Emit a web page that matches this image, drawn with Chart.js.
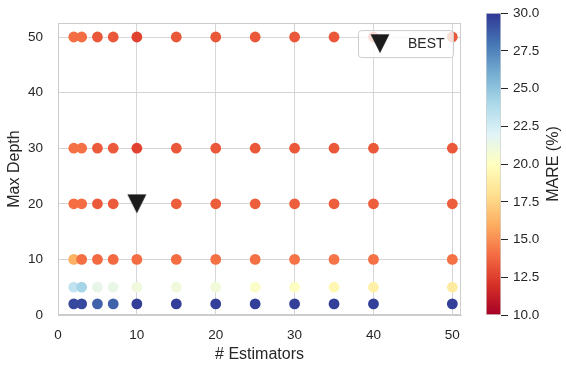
<!DOCTYPE html>
<html>
<head>
<meta charset="utf-8">
<script src="https://cdn.jsdelivr.net/npm/chart.js@4/dist/chart.umd.min.js"></script>
<style>
  html, body { margin: 0; padding: 0; background: #ffffff; }
  #wrap { position: relative; width: 566px; height: 371px; }
  #main { position: absolute; left: 0; top: 0; }
  #cbar { position: absolute; left: 475px; top: 0; }
</style>
</head>
<body>
<div id="wrap">
  <canvas id="main" width="475" height="371"></canvas>
  <canvas id="cbar" width="91" height="371"></canvas>
</div>
<script>
// Grid search results: MARE (%) for each (n_estimators, max_depth) pair
const estimators = [2, 3, 5, 7, 10, 15, 20, 25, 30, 35, 40, 50];
const maxDepths = [2, 5, 10, 20, 30, 50];

const mareDepth2  = [29.4, 29.4, 28.6, 28.6, 29.7, 29.7, 29.7, 29.7, 29.7, 29.7, 29.7, 29.7];
const mareDepth5  = [23.2, 24.2, 21.5, 21.4, 21.0, 21.0, 20.9, 20.3, 20.1, 19.5, 19.0, 18.7];
const mareDepth10 = [16.1, 14.0, 13.9, 13.9, 14.0, 14.0, 14.1, 14.1, 14.2, 14.2, 14.1, 14.1];
const mareDepth20 = [14.0, 14.0, 13.4, 13.4, null, 13.5, 13.5, 13.5, 13.5, 13.5, 13.5, 13.5];
const mareDepth30 = [14.1, 14.1, 13.4, 13.4, 12.6, 13.3, 13.3, 13.3, 13.3, 13.3, 13.3, 13.3];
const mareDepth50 = [14.0, 14.0, 13.3, 13.3, 12.6, 13.3, 13.3, 13.3, 13.3, 13.3, 13.3, 13.3];
const mareRows = [mareDepth2, mareDepth5, mareDepth10, mareDepth20, mareDepth30, mareDepth50];

// Selected configuration
const bestEstimators = 10;
const bestDepth = 20;

// Axis ticks and colour scale range
const xTicks = [0, 10, 20, 30, 40, 50];
const yTicks = [0, 10, 20, 30, 40, 50];
const cbarTicks = [10, 12.5, 15, 17.5, 20, 22.5, 25, 27.5, 30];
const cbarMin = 10;
const cbarMax = 30;

// RdYlBu colormap anchors
const RDYLBU = ['#a50026', '#d73027', '#f46d43', '#fdae61', '#fee090', '#ffffbf',
                '#e0f3f8', '#abd9e9', '#74add1', '#4575b4', '#313695'];

function hexToRgb(h) {
  return [parseInt(h.slice(1, 3), 16), parseInt(h.slice(3, 5), 16), parseInt(h.slice(5, 7), 16)];
}
function rdylbu(t) {
  t = Math.max(0, Math.min(1, t));
  const pos = t * (RDYLBU.length - 1);
  const i = Math.min(Math.floor(pos), RDYLBU.length - 2);
  const f = pos - i;
  const a = hexToRgb(RDYLBU[i]), b = hexToRgb(RDYLBU[i + 1]);
  const c = a.map((v, k) => Math.round(v + (b[k] - v) * f));
  return `rgb(${c[0]},${c[1]},${c[2]})`;
}
function colorFor(v) { return rdylbu((v - cbarMin) / (cbarMax - cbarMin)); }

const FONT = "'Liberation Sans', Arial, Helvetica, sans-serif";
const TEXT = '#262626';
const GRID = '#d6d6d6';

// Scatter points built from the result rows
const points = [];
const pointColors = [];
maxDepths.forEach((d, r) => {
  estimators.forEach((n, c) => {
    const v = mareRows[r][c];
    if (v === null) return;
    points.push({ x: n, y: d, mare: v });
    pointColors.push(colorFor(v));
  });
});

// Downward triangle marker
function makeTriangle(w, h, color) {
  const cv = document.createElement('canvas');
  cv.width = w + 1; cv.height = h + 1;
  const c = cv.getContext('2d');
  c.fillStyle = color;
  c.beginPath();
  c.moveTo(0.5, 0.5);
  c.lineTo(w + 0.5, 0.5);
  c.lineTo((w + 1) / 2, h + 0.5);
  c.closePath();
  c.fill();
  return cv;
}
const triangle = makeTriangle(19, 19, '#1c1c1c');

// Frame around the plotting area
const framePlugin = {
  id: 'frame',
  beforeDatasetsDraw(chart) {
    const { ctx, chartArea: a } = chart;
    ctx.save();
    ctx.strokeStyle = '#cccccc';
    ctx.lineWidth = 1;
    ctx.strokeRect(Math.round(a.left) + 0.5, Math.round(a.top) + 0.5,
                   Math.round(a.right - a.left) - 1, Math.round(a.bottom - a.top) - 1);
    ctx.restore();
  }
};

// Legend box in the upper-right corner of the plot
const legendPlugin = {
  id: 'bestLegend',
  afterDatasetsDraw(chart) {
    const { ctx, chartArea: a } = chart;
    const w = 95, h = 27;
    const x = a.right - 8 - w, y = a.top + 7;
    ctx.save();
    ctx.beginPath();
    ctx.roundRect(x + 0.5, y + 0.5, w, h, 3);
    ctx.fillStyle = 'rgba(255,255,255,0.8)';
    ctx.fill();
    ctx.strokeStyle = '#cccccc';
    ctx.lineWidth = 1;
    ctx.stroke();
    ctx.drawImage(triangle, x + 22 - triangle.width / 2, y + 13.5 - triangle.height / 2);
    ctx.fillStyle = TEXT;
    ctx.font = `14px ${FONT}`;
    ctx.textBaseline = 'middle';
    ctx.textAlign = 'left';
    ctx.fillText(chart.data.datasets[1].label, x + 50, y + 14);
    ctx.restore();
  }
};

new Chart(document.getElementById('main'), {
  type: 'scatter',
  data: {
    datasets: [
      {
        label: 'MARE',
        data: points,
        pointBackgroundColor: pointColors,
        pointBorderWidth: 0,
        pointRadius: 5.4,
        pointHoverRadius: 5.4
      },
      {
        label: 'BEST',
        data: [{ x: bestEstimators, y: bestDepth }],
        pointStyle: triangle,
        pointRadius: 10
      }
    ]
  },
  options: {
    responsive: false,
    animation: false,
    events: [],
    layout: { padding: { top: 6, right: 14, left: 0, bottom: 0 } },
    plugins: { legend: { display: false }, tooltip: { enabled: false } },
    scales: {
      x: {
        type: 'linear',
        min: 0,
        max: 51.1,
        afterBuildTicks: s => { s.ticks = xTicks.map(v => ({ value: v })); },
        afterFit: s => { s.height = 56; },
        ticks: { padding: 12, color: TEXT, font: { family: FONT, size: 13.5 } },
        grid: { color: GRID, lineWidth: 1, drawTicks: false },
        border: { display: true, color: '#cccccc' },
        title: {
          display: true, text: '# Estimators', color: TEXT,
          font: { family: FONT, size: 16 }, padding: { top: 0, bottom: 6.4 }
        }
      },
      y: {
        type: 'linear',
        min: 0,
        max: 52.5,
        afterBuildTicks: s => { s.ticks = yTicks.map(v => ({ value: v })); },
        afterFit: s => { s.width = 58; },
        ticks: { padding: 15, color: TEXT, font: { family: FONT, size: 13.5 } },
        grid: { color: GRID, lineWidth: 1, drawTicks: false },
        border: { display: true, color: '#cccccc' },
        title: {
          display: true, text: 'Max Depth', color: TEXT,
          font: { family: FONT, size: 16 }, padding: { top: 5, bottom: 0 }
        }
      }
    }
  },
  plugins: [framePlugin, legendPlugin]
});

// Colour bar: one floating bar spanning the colour range, filled with the colormap
const cbarTitlePlugin = {
  id: 'cbarTitle',
  afterDraw(chart) {
    const { ctx, chartArea: a } = chart;
    ctx.save();
    ctx.translate(79, (a.top + a.bottom) / 2);
    ctx.rotate(-Math.PI / 2);
    ctx.fillStyle = TEXT;
    ctx.font = `16px ${FONT}`;
    ctx.textAlign = 'center';
    ctx.textBaseline = 'middle';
    ctx.fillText('MARE (%)', 0, 0);
    ctx.restore();
  }
};

new Chart(document.getElementById('cbar'), {
  type: 'bar',
  data: {
    labels: ['MARE (%)'],
    datasets: [{
      data: [[cbarMin, cbarMax]],
      backgroundColor: ctx => {
        const chart = ctx.chart;
        const a = chart.chartArea;
        if (!a) return RDYLBU[5];
        const ys = chart.scales.y;
        const g = chart.ctx.createLinearGradient(0, ys.getPixelForValue(cbarMin), 0, ys.getPixelForValue(cbarMax));
        RDYLBU.forEach((c, i) => g.addColorStop(i / (RDYLBU.length - 1), c));
        return g;
      },
      borderColor: '#d0d0d0',
      borderWidth: 1,
      borderSkipped: false,
      barPercentage: 1,
      categoryPercentage: 1
    }]
  },
  options: {
    responsive: false,
    animation: false,
    events: [],
    layout: { padding: { top: 6, left: 11, right: 0, bottom: 56 } },
    plugins: { legend: { display: false }, tooltip: { enabled: false } },
    scales: {
      x: { display: false },
      y: {
        position: 'right',
        min: cbarMin,
        max: cbarMax,
        afterBuildTicks: s => { s.ticks = cbarTicks.map(v => ({ value: v })); },
        afterFit: s => { s.width = 65; },
        ticks: {
          padding: 5, color: TEXT, font: { family: FONT, size: 13.5 },
          callback: v => Number(v).toFixed(1)
        },
        grid: { drawOnChartArea: false, drawTicks: true, tickLength: 7, tickColor: TEXT, tickWidth: 1 },
        border: { display: false }
      }
    }
  },
  plugins: [cbarTitlePlugin]
});
</script>
</body>
</html>
